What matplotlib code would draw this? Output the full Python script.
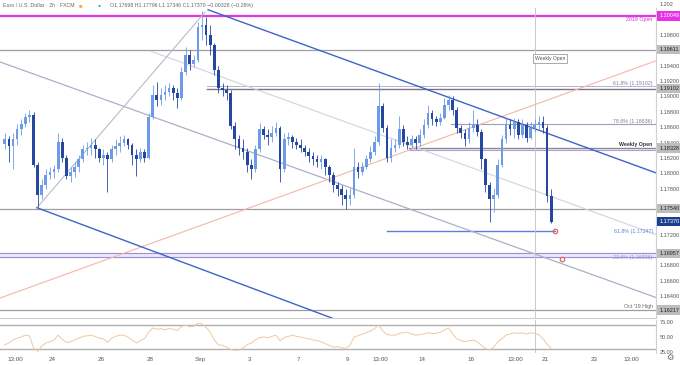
import numpy as np
import matplotlib.pyplot as plt
from matplotlib.transforms import blended_transform_factory

plt.rcParams['font.family'] = ['Liberation Sans', 'DejaVu Sans']

# 4h-style bars, Aug 20 -> Sep 21 (trading days, weekends skipped)
first_open = 1.1838
closes = [1.1844, 1.1835, 1.1844, 1.1857, 1.1864, 1.1873, 1.1876, 1.1811, 1.1772, 1.1785,
          1.1798, 1.1802, 1.1805, 1.1841, 1.1820, 1.1796, 1.1801, 1.1808, 1.1818, 1.1831,
          1.1833, 1.1837, 1.1831, 1.1820, 1.1824, 1.1818, 1.1831, 1.1835, 1.1840, 1.1844,
          1.1837, 1.1824, 1.1818, 1.1828, 1.1820, 1.1873, 1.1902, 1.1896, 1.1902, 1.1906,
          1.1911, 1.1905, 1.1898, 1.1932, 1.1954, 1.1942, 1.1948, 1.1990, 1.1993, 1.1980,
          1.1967, 1.1935, 1.1911, 1.1909, 1.1905, 1.1861, 1.1844, 1.1833, 1.1828, 1.1811,
          1.1805, 1.1831, 1.1857, 1.1850, 1.1847, 1.1853, 1.1859, 1.1805, 1.1844, 1.1847,
          1.1841, 1.1837, 1.1833, 1.1828, 1.1822, 1.1818, 1.1814, 1.1818, 1.1808, 1.1798,
          1.1785, 1.1779, 1.1772, 1.1766, 1.1772, 1.1808, 1.1802, 1.1808, 1.1818, 1.1828,
          1.1841, 1.1887, 1.1859, 1.1820, 1.1833, 1.1837, 1.1857, 1.1841, 1.1837, 1.1844,
          1.1840, 1.1850, 1.1863, 1.1879, 1.1870, 1.1867, 1.1872, 1.1889, 1.1896, 1.1883,
          1.1859, 1.1853, 1.1844, 1.1859, 1.1863, 1.1854, 1.1818, 1.1785, 1.1766, 1.1772,
          1.1811, 1.1844, 1.1863, 1.1857, 1.1867, 1.1850, 1.1863, 1.1846, 1.1859, 1.1863,
          1.1867, 1.1859, 1.1770, 1.1737]
highs = [1.1853, 1.1848, 1.1853, 1.1864, 1.1870, 1.1878, 1.1882, 1.1880, 1.1814, 1.1792,
         1.1805, 1.1808, 1.1811, 1.1853, 1.1846, 1.1824, 1.1808, 1.1815, 1.1824, 1.1837,
         1.1841, 1.1846, 1.1844, 1.1833, 1.1831, 1.1828, 1.1837, 1.1844, 1.1848, 1.1850,
         1.1846, 1.1840, 1.1831, 1.1833, 1.1831, 1.1878, 1.1915, 1.1919, 1.1911, 1.1915,
         1.1918, 1.1915, 1.1911, 1.1938, 1.1965, 1.1960, 1.1954, 1.1997, 1.2011, 1.2003,
         1.1993, 1.1970, 1.1940, 1.1918, 1.1915, 1.1909, 1.1867, 1.1850, 1.1844, 1.1833,
         1.1818, 1.1837, 1.1866, 1.1861, 1.1857, 1.1861, 1.1867, 1.1861, 1.1853, 1.1854,
         1.1850, 1.1846, 1.1844, 1.1837, 1.1833, 1.1827, 1.1824, 1.1824, 1.1820, 1.1811,
         1.1802, 1.1789, 1.1785, 1.1779, 1.1781, 1.1833, 1.1815, 1.1815, 1.1824, 1.1835,
         1.1848, 1.1918, 1.1892, 1.1863, 1.1844, 1.1844, 1.1874, 1.1863, 1.1848, 1.1850,
         1.1848, 1.1857, 1.1870, 1.1889, 1.1883, 1.1875, 1.1879, 1.1898, 1.1902, 1.1901,
         1.1886, 1.1863, 1.1857, 1.1867, 1.1883, 1.1870, 1.1857, 1.1820, 1.1789, 1.1781,
         1.1818, 1.1850, 1.1872, 1.1870, 1.1872, 1.1870, 1.1870, 1.1867, 1.1867, 1.1870,
         1.1875, 1.1874, 1.1863, 1.1780]
lows = [1.1831, 1.1815, 1.1805, 1.1837, 1.1850, 1.1860, 1.1867, 1.1808, 1.1756, 1.1766,
        1.1779, 1.1792, 1.1794, 1.1802, 1.1815, 1.1792, 1.1789, 1.1795, 1.1802, 1.1815,
        1.1824, 1.1824, 1.1820, 1.1814, 1.1811, 1.1775, 1.1815, 1.1824, 1.1828, 1.1835,
        1.1831, 1.1811, 1.1796, 1.1814, 1.1814, 1.1818, 1.1870, 1.1887, 1.1889, 1.1896,
        1.1900, 1.1896, 1.1885, 1.1896, 1.1928, 1.1935, 1.1938, 1.1945, 1.1974, 1.1967,
        1.1954, 1.1928, 1.1905, 1.1900, 1.1896, 1.1857, 1.1831, 1.1824, 1.1818, 1.1802,
        1.1792, 1.1802, 1.1828, 1.1844, 1.1837, 1.1841, 1.1848, 1.1788, 1.1802, 1.1837,
        1.1833, 1.1831, 1.1827, 1.1822, 1.1815, 1.1811, 1.1808, 1.1805, 1.1798, 1.1789,
        1.1776, 1.1770, 1.1759, 1.1753, 1.1758, 1.1768, 1.1794, 1.1798, 1.1805, 1.1815,
        1.1824, 1.1837, 1.1854, 1.1815, 1.1815, 1.1828, 1.1833, 1.1835, 1.1831, 1.1833,
        1.1831, 1.1835, 1.1846, 1.1859, 1.1863, 1.1861, 1.1863, 1.1870, 1.1883, 1.1876,
        1.1853, 1.1846, 1.1835, 1.1840, 1.1854, 1.1848, 1.1805, 1.1776, 1.1737, 1.1750,
        1.1768, 1.1808, 1.1840, 1.1850, 1.1846, 1.1844, 1.1846, 1.1841, 1.1844, 1.1854,
        1.1857, 1.1853, 1.1762, 1.1735]
rsi = [37, 40, 45, 48, 50, 53, 52, 32, 26, 35, 40, 42, 45, 53, 46, 41, 42, 45, 48, 51,
       52, 53, 51, 48, 47, 41, 48, 51, 53, 53, 50, 45, 40, 44, 47, 58, 65, 63, 64, 62,
       64, 63, 61, 67, 70, 67, 68, 73, 72, 66, 58, 45, 37, 36, 33, 29, 28, 28, 32, 37,
       40, 45, 49, 50, 49, 51, 53, 44, 49, 51, 53, 51, 50, 48, 47, 45, 44, 42, 39, 36,
       33, 34, 32, 31, 36, 50, 52, 55, 57, 60, 64, 70, 60, 54, 53, 53, 56, 57, 58, 55,
       53, 54, 55, 57, 56, 56, 58, 62, 65, 55, 47, 44, 42, 44, 45, 42, 36, 31, 28, 33,
       42, 47, 53, 55, 57, 56, 57, 55, 57, 56, 54, 47, 38, 31]
first_day = -2.0      # Aug 20, day index 0 = Aug 24
bars_per_day = 6

date_ticks = [-1.5, 0, 2, 4, 6, 8, 10, 12, 13.3, 15, 17, 18.8, 20, 22, 23.5]
date_labels = ['13:00', '24', '26', '28', 'Sep', '3', '7', '9', '13:00', '14', '16',
               '13:00', '21', '23', '13:00']
price_ticks = [1.164, 1.166, 1.168, 1.172, 1.178, 1.180, 1.182, 1.184, 1.186, 1.188,
               1.190, 1.192, 1.194, 1.198]
rsi_ticks = [25, 50, 75]

level_2018_open = 1.20049
level_gray = [1.19611, 1.17540, 1.16217]
level_fib_hi = 1.19102
level_786 = 1.18636
level_weekly = 1.18328
level_618 = 1.17247
band_lo = [1.16906, 1.16957]
last_price = 1.17370

# channel anchors (day, price)
upper_chan = ([6.33, 24.5], [1.2013, 1.18004])
lower_chan = ([-0.61, 11.4], [1.1755, 1.16107])
median_line = ([-2.11, 24.5], [1.1945, 1.1638])
quarter_line = ([4.0, 24.5], [1.1959, 1.1720])
handle_line = ([-0.61, 6.21], [1.1755, 1.2010])
salmon_line = ([-2.11, 24.5], [1.16373, 1.19465])
marker_pts = ([20.4, 20.69], [1.17245, 1.16880])

UP = '#6d9be8'
DOWN = '#26479f'
GRID = '#9e9e9e'
AX_W = 656 / 680

fig = plt.figure(figsize=(6.8, 3.65), dpi=100)
ax = fig.add_axes([0, 1 - 318 / 365, AX_W, 310 / 365])
rax = fig.add_axes([0, 1 - 353 / 365, AX_W, 33 / 365], sharex=ax)

xlim = (-2.11, 24.5)
ax.set_xlim(*xlim)
ax.set_ylim(1.16113, 1.20153)

n = len(closes)
x = first_day + (np.arange(n) + 0.5) / bars_per_day
opens = np.array([first_open] + closes[:-1])
c = np.array(closes)
up = c >= opens
colors = np.where(up, UP, DOWN)

# reference lines
ax.axhline(level_2018_open, color='#e533e5', lw=1.6, zorder=1)
for lv in level_gray:
    ax.axhline(lv, color=GRID, lw=0.9, zorder=1)
ax.plot([6.3, xlim[1]], [level_fib_hi, level_fib_hi], color='#777777', lw=1.0, zorder=1)
ax.plot([6.3, xlim[1]], [level_fib_hi + 0.0003, level_fib_hi + 0.0003], color='#b8b0dc', lw=0.7, zorder=1)
ax.plot([16.2, xlim[1]], [level_786, level_786], color='#9aa0b8', lw=0.8, zorder=1)
ax.fill_between([14.5, xlim[1]], level_weekly - 0.0003, level_weekly, color='#ece8f8', zorder=0)
ax.plot([14.5, xlim[1]], [level_weekly, level_weekly], color='#888888', lw=0.9, zorder=1)
ax.plot([14.5, xlim[1]], [level_weekly - 0.0003] * 2, color='#a99be0', lw=0.7, zorder=1)
ax.plot([13.6, 20.4], [level_618, level_618], color='#5b7ed8', lw=1.0, zorder=1)
ax.axhspan(band_lo[0], band_lo[1], color='#ede8f9', zorder=0)
for lv in band_lo:
    ax.axhline(lv, color='#9b8fd8', lw=0.8, zorder=1)

ax.plot(*upper_chan, color='#3f63c9', lw=1.0, zorder=2)
ax.plot(*lower_chan, color='#3f63c9', lw=1.0, zorder=2)
ax.plot(*median_line, color='#a7b2c8', lw=0.9, zorder=1)
ax.plot(*quarter_line, color='#cfd4df', lw=0.8, zorder=1)
ax.plot(*handle_line, color='#b8bcc6', lw=0.8, zorder=1)
ax.plot(*salmon_line, color='#f2b8a8', lw=0.8, zorder=1)
ax.plot(*marker_pts, 'o', ms=3.2, mfc='none', mec='#e06666', mew=0.9, zorder=4)
for a in (ax, rax):
    a.axvline(19.6, color='#c8c8c8', lw=0.7, zorder=1)

# candles
ax.vlines(x, lows, highs, colors=colors, lw=0.6, zorder=3)
ax.bar(x, np.maximum(np.abs(c - opens), 0.00004), bottom=np.minimum(c, opens),
       width=0.11, color=colors, lw=0, zorder=3)

# axes styling
for a in (ax, rax):
    for s in ('top', 'left', 'bottom'):
        a.spines[s].set_visible(False)
    a.spines['right'].set_color('#d0d0d0')
    a.yaxis.tick_right()
    a.tick_params(axis='y', length=0, pad=2.5, labelsize=4.0, labelcolor='#555555')
ax.spines['bottom'].set_visible(True)
ax.spines['bottom'].set_color('#d0d0d0')
ax.set_yticks(price_ticks)
ax.set_yticklabels([f'{t:.5f}' for t in price_ticks])
ax.tick_params(axis='x', length=0, labelbottom=False)

rax.set_ylim(23.3, 78.3)
rax.set_yticks(rsi_ticks)
rax.set_yticklabels([f'{t:.2f}' for t in rsi_ticks])
rax.set_xticks(date_ticks)
rax.set_xticklabels(date_labels)
rax.tick_params(axis='x', length=0, pad=3, labelsize=4.5, labelcolor='#555555')
rax.axhline(70, color='#b0b0b0', lw=1.0)
rax.axhline(30, color='#b0b0b0', lw=1.0)
rax.plot(x, rsi, color='#f0c8a0', lw=0.7)

# right-side level boxes
tr = blended_transform_factory(ax.transAxes, ax.transData)
boxes = [(level_2018_open, '#e533e5', 'white'), (1.19611, '#bdbdbd', '#222222'),
         (level_fib_hi, '#bdbdbd', '#222222'), (level_weekly, '#bdbdbd', '#222222'),
         (1.17540, '#bdbdbd', '#222222'), (last_price, '#1e3f8f', 'white'),
         (band_lo[1], '#bdbdbd', '#222222'), (1.16217, '#bdbdbd', '#222222')]
for lv, fc, tc in boxes:
    ax.text(1.005, lv, f'{lv:.5f}', transform=tr, fontsize=4.0, color=tc, va='center', ha='left',
            bbox=dict(boxstyle='square,pad=0.4', fc=fc, ec='none'), clip_on=False, zorder=6)
ax.text(1.005, 1.2020, '1.202', transform=tr, fontsize=4.0, color='#555555', va='center',
        ha='left', clip_on=False)

# level captions
lab = dict(transform=tr, fontsize=3.8, ha='right', va='center')
ax.text(0.995, level_2018_open - 0.0004, '2018 Open', color='#d02fd0', **lab)
ax.text(0.995, level_fib_hi + 0.0007, '61.8% (1.19102)', color='#7a7fa0', **lab)
ax.text(0.995, level_786 + 0.0004, '78.6% (1.18636)', color='#7a7fa0', **lab)
ax.text(0.995, level_weekly + 0.0004, 'Weekly Open', color='#333333', fontweight='bold', **lab)
ax.text(0.995, level_618 - 0.0001, '61.8% (1.17247)', color='#5b7ed8', **lab)
ax.text(0.995, band_lo[0] - 0.0001, '23.6% (1.16906)', color='#9b8fd8', **lab)
ax.text(0.995, 1.16217 + 0.0004, 'Oct \'19 High', color='#666666', **lab)
ax.text(20.2, 1.1950, 'Weekly Open', fontsize=3.6, color='#555555', ha='center', va='center',
        bbox=dict(boxstyle='square,pad=0.4', fc='white', ec='#888888', lw=0.5), zorder=5)

# header
fig.text(0.004, 0.985, 'Euro / U.S. Dollar · 2h · FXCM', fontsize=3.8, color='#666666', va='center')
fig.text(0.115, 0.985, '■', fontsize=4.2, color='#f2b134', va='center')
fig.text(0.144, 0.985, '●', fontsize=3.6, color='#26a69a', va='center')
fig.text(0.162, 0.985, 'O1.17698 H1.17796 L1.17346 C1.17370 −0.00328 (−0.28%)',
         fontsize=3.8, color='#666666', va='center')
fig.text(0.985, 0.017, '⚙', fontsize=6, color='#666666', ha='center', va='center')

fig.savefig('out.png', dpi=100)
